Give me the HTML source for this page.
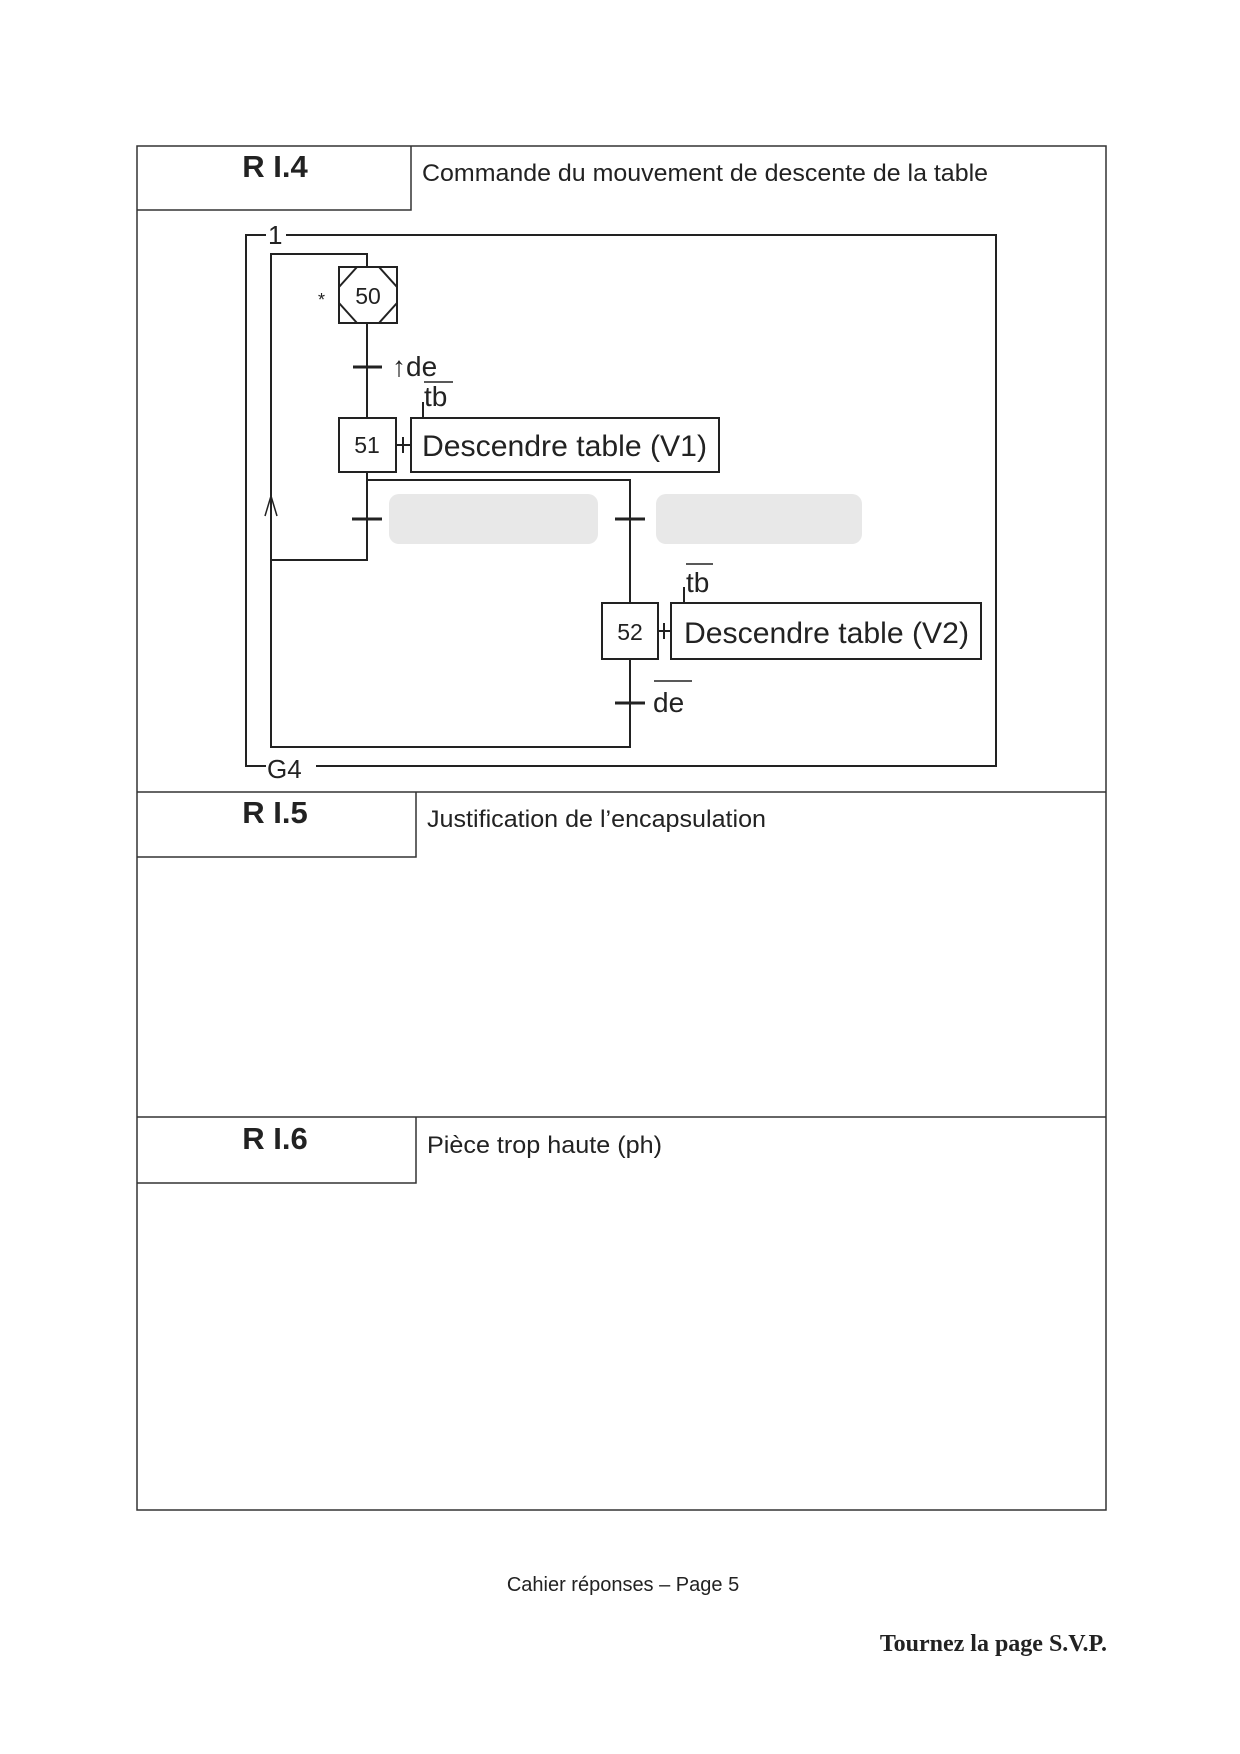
<!DOCTYPE html>
<html><head><meta charset="utf-8"><style>
html,body{margin:0;padding:0;background:#fff}
svg{display:block}
text{font-family:"Liberation Sans",sans-serif;fill:#222}
</style></head><body>
<svg width="1240" height="1754" viewBox="0 0 1240 1754" xmlns="http://www.w3.org/2000/svg">
<g stroke="#333" stroke-width="1.5" fill="none">
<rect x="137" y="146" width="969" height="1364"/>
<polyline points="137,210 411,210 411,146"/>
<line x1="137" y1="792" x2="1106" y2="792"/>
<polyline points="137,857 416,857 416,792"/>
<line x1="137" y1="1117" x2="1106" y2="1117"/>
<polyline points="137,1183 416,1183 416,1117"/>
</g>
<text x="275" y="177" font-size="31" font-weight="bold" text-anchor="middle">R I.4</text>
<text x="422" y="181" font-size="24" textLength="566" lengthAdjust="spacingAndGlyphs">Commande du mouvement de descente de la table</text>
<text x="275" y="823" font-size="31" font-weight="bold" text-anchor="middle">R I.5</text>
<text x="427" y="827" font-size="24" textLength="339" lengthAdjust="spacingAndGlyphs">Justification de l’encapsulation</text>
<text x="275" y="1149" font-size="31" font-weight="bold" text-anchor="middle">R I.6</text>
<text x="427" y="1153" font-size="24" textLength="235" lengthAdjust="spacingAndGlyphs">Pièce trop haute (ph)</text>

<g stroke="#222" stroke-width="2" fill="none">
<polyline points="286,235 996,235 996,766 316,766"/>
<polyline points="266,235 246,235 246,766 266,766"/>
<polyline points="367,268 367,254 271,254 271,747 630,747 630,659"/>
<line x1="367" y1="323" x2="367" y2="418"/>
<line x1="353" y1="367" x2="382" y2="367" stroke-width="3"/>
<rect x="339" y="267" width="58" height="56"/>
<polyline points="357,267 339,287"/><polyline points="379,267 397,287"/>
<polyline points="339,303 357,323"/><polyline points="397,303 379,323"/>
<rect x="339" y="418" width="57" height="54"/>
<line x1="396" y1="445" x2="411" y2="445"/>
<line x1="403" y1="437" x2="403" y2="453"/>
<rect x="411" y="418" width="308" height="54"/>
<line x1="423" y1="418" x2="423" y2="402"/>
<line x1="424" y1="382" x2="453" y2="382" stroke-width="1.5"/>
<polyline points="367,472 367,560 271,560"/>
<polyline points="367,480 630,480 630,603"/>
<line x1="352" y1="519" x2="382" y2="519" stroke-width="3"/>
<line x1="615" y1="519" x2="645" y2="519" stroke-width="3"/>
<polyline points="265,516 271,496 277,516" stroke-width="1.5"/>
<rect x="602" y="603" width="56" height="56"/>
<line x1="658" y1="631" x2="671" y2="631"/>
<line x1="664" y1="623" x2="664" y2="639"/>
<rect x="671" y="603" width="310" height="56"/>
<line x1="684" y1="603" x2="684" y2="587"/>
<line x1="686" y1="564" x2="713" y2="564" stroke-width="1.5"/>
<line x1="615" y1="703" x2="645" y2="703" stroke-width="3"/>
<line x1="654" y1="681" x2="692" y2="681" stroke-width="1.5"/>
</g>
<rect x="389" y="494" width="209" height="50" rx="10" fill="#e8e8e8"/>
<rect x="656" y="494" width="206" height="50" rx="10" fill="#e8e8e8"/>
<text x="268" y="244" font-size="26">1</text>
<text x="267" y="778" font-size="26">G4</text>
<text x="318" y="306" font-size="18">*</text>
<text x="368" y="304" font-size="23" text-anchor="middle">50</text>
<text x="367" y="453" font-size="23" text-anchor="middle">51</text>
<text x="630" y="640" font-size="23" text-anchor="middle">52</text>
<text x="392" y="376" font-size="28">↑de</text>
<text x="424" y="406" font-size="28">tb</text>
<text x="422" y="456" font-size="30" textLength="285" lengthAdjust="spacingAndGlyphs">Descendre table (V1)</text>
<text x="686" y="592" font-size="28">tb</text>
<text x="684" y="643" font-size="30" textLength="285" lengthAdjust="spacingAndGlyphs">Descendre table (V2)</text>
<text x="653" y="712" font-size="28">de</text>
<text x="623" y="1591" font-size="20" text-anchor="middle">Cahier réponses – Page 5</text>
<text x="1107" y="1651" font-size="24" font-weight="bold" text-anchor="end" style="font-family:'Liberation Serif',serif">Tournez la page S.V.P.</text>
</svg>
</body></html>
